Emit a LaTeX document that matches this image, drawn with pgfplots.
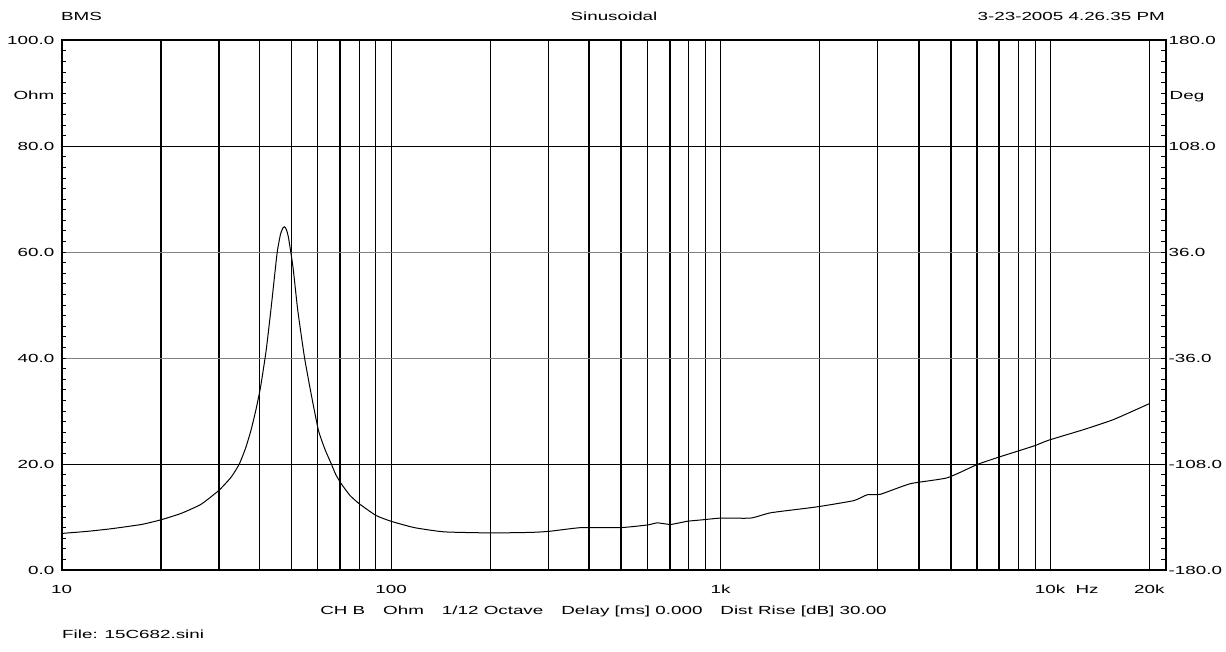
\documentclass[border=0pt]{standalone}
\usepackage{pgfplots}
\pgfplotsset{compat=1.18}
\usepackage{fontspec}
\setmainfont{Liberation Sans}[FakeStretch=1.6]
\pgfplotstableread{
f z
10 6.9
12 7.3
14.2 7.8
17.5 8.6
20.1 9.5
23.1 10.7
26.5 12.4
30 15.0
32.5 17.3
33.6 18.6
34.7 20.1
36.2 23.0
37.6 26.4
38.9 30.2
40.2 34.6
41.8 41.5
43.3 49.7
45.1 59.8
46.2 63.4
47.0 64.6
47.5 64.8
48.1 64.3
48.8 62.9
50.4 57.2
52.1 49.1
54.6 40.2
57.2 33.3
60.2 26.4
63.0 22.8
65.8 20.1
68.0 18.0
70.6 16.3
75 14.1
80.1 12.5
90 10.3
100 9.2
117.7 8.0
145 7.2
201 7.0
266 7.1
302 7.3
377 8.0
498 8.0
600 8.5
643 8.9
706 8.6
793 9.2
890 9.5
1001 9.8
1234 9.8
1418 10.8
1790 11.6
2001 12.0
2538 13.1
2786 14.2
3057 14.3
3770 16.3
4870 17.4
6002 19.9
6981 21.3
8913 23.4
9896 24.5
12636 26.5
15576 28.4
20000 31.4
}\imp
\begin{document}
\fontsize{11.8}{14}\selectfont
\begin{tikzpicture}
\useasboundingbox (-61.5bp,-82bp) rectangle (1164.5bp,570bp);
\begin{axis}[
 at={(0,0)}, anchor=south west, scale only axis, width=1104bp, height=529.7bp,
 xmode=log, xmin=10, xmax=22400, ymin=0, ymax=100,
 axis line style={line width=2bp, black},
 xtick={10,100,1000,10000,20000},
 xticklabels={10,100,1k,10k,20k},
 minor xtick={40,50,60,80,90,200,300,600,800,900,2000,3000,8000,9000},
 xmajorgrids, xminorgrids, ymajorgrids,
 major grid style={black, line width=1bp},
 minor grid style={black, line width=1bp},
 xtick style={draw=none},
 ytick style={black, line width=1bp},
 major tick length=5bp, minor tick length=5bp,
 tick align=inside, ytick pos=left,
 ytick={0,20,80,100},
 yticklabels={0.0,20.0,80.0,100.0},
 minor ytick={2,4,...,98},
 extra y ticks={40,60}, extra y tick labels={40.0,60.0},
 extra y tick style={major grid style={gray, line width=1bp}},
 extra x ticks={20,30,70,400,500,700,4000,5000,6000,7000},
 extra x tick labels={},
 extra x tick style={major grid style={black, line width=2bp}},
 xticklabel style={anchor=center, inner sep=0pt, yshift=-19.3bp},
 yticklabel style={anchor=east, inner sep=0pt, xshift=-7bp},
]
\addplot[black, line width=1bp, smooth, tension=0.3] table[x=f, y=z] {\imp};
\end{axis}
\begin{axis}[
 at={(0,0)}, anchor=south west, scale only axis, width=1104bp, height=529.7bp,
 xmode=log, xmin=10, xmax=22400, ymin=-180, ymax=180,
 axis line style={line width=2bp, black},
 xtick=\empty,
 ytick={-180,-108,-36,36,108,180},
 yticklabels={-180.0,-108.0,-36.0,36.0,108.0,180.0},
 minor y tick num=9,
 ytick pos=right, tick align=inside,
 major tick length=5bp, minor tick length=5bp,
 ytick style={black, line width=1bp},
 yticklabel style={anchor=west, inner sep=0pt, xshift=3bp},
]
\end{axis}
\node[anchor=base west, inner sep=0pt] at (-0.5bp,549bp) {BMS};
\node[anchor=base, inner sep=0pt] at (552.5bp,549bp) {Sinusoidal};
\node[anchor=base east, inner sep=0pt] at (1103.5bp,549bp) {3-23-2005 4.26.35 PM};
\node[anchor=base east, inner sep=0pt] at (-7bp,470bp) {Ohm};
\node[anchor=base west, inner sep=0pt] at (1108bp,470bp) {Deg};
\node[anchor=base, inner sep=0pt] at (1025.5bp,-23.5bp) {Hz};
\node[anchor=base, inner sep=0pt] at (542bp,-44.2bp) {CH B\hspace{18bp}Ohm\hspace{18bp}1/12 Octave\hspace{18bp}Delay [ms] 0.000\hspace{18bp}Dist Rise [dB] 30.00};
\node[anchor=base west, inner sep=0pt] at (0.5bp,-68bp) {File: 15C682.sini};
\end{tikzpicture}
\end{document}
